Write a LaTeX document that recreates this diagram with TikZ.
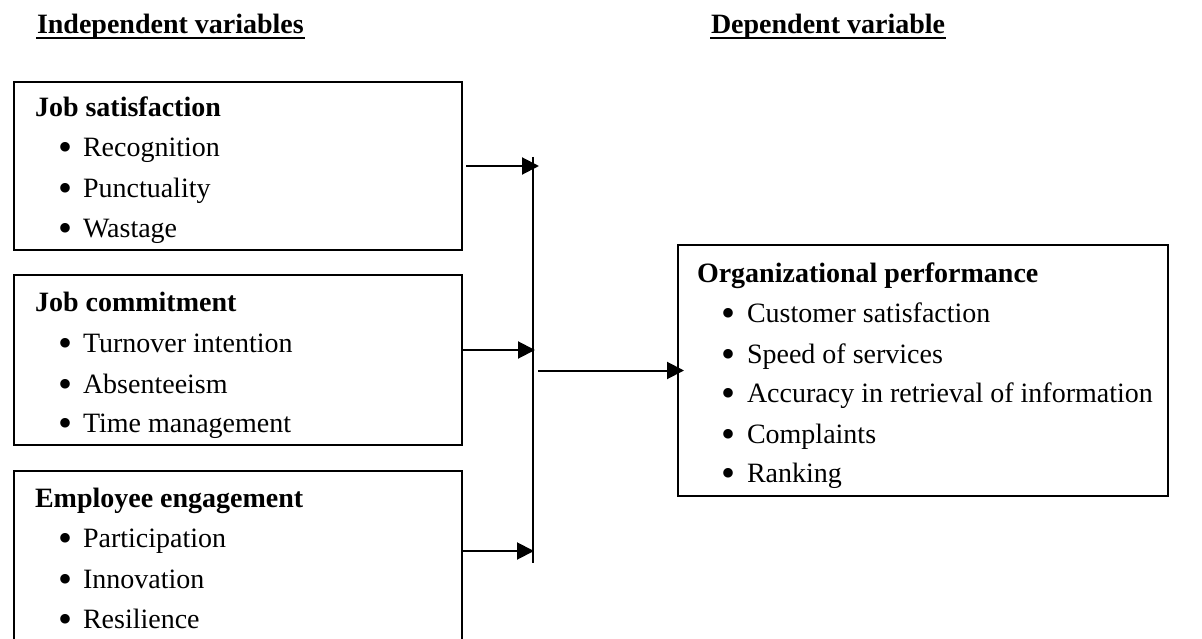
\documentclass[tikz,border=0pt]{standalone}
\usepackage{fontspec}
\setmainfont{Liberation Serif}
\usetikzlibrary{arrows.meta}
\begin{document}
\begin{tikzpicture}[x=1pt,y=-1pt,line width=2pt,
  txt/.style={anchor=base west,inner sep=0pt,font=\fontsize{28}{34}\selectfont},
  hd/.style={anchor=base west,inner sep=0pt,font=\fontsize{28}{34}\selectfont\bfseries},
  bul/.style={anchor=base,inner sep=0pt,yshift=-4pt,font=\fontsize{40}{40}\selectfont},
  box/.style={draw,line width=2pt,inner sep=0pt,outer sep=0pt,anchor=north west},
  arr/.style={-{Triangle[length=17pt,width=17pt]},line width=2pt}]
\useasboundingbox (0,0) rectangle (1202,639);
% headings
\node[hd] (h1) at (36,34) {Independent variables};
\node[hd] (h2) at (710,34) {Dependent variable};
\draw ([yshift=-4pt]h1.base west) -- ([yshift=-4pt]h1.base east);
\draw ([yshift=-4pt]h2.base west) -- ([yshift=-4pt]h2.base east);
% boxes
\node[box,minimum width=448pt,minimum height=168pt] (b1) at (14,82) {};
\node[box,minimum width=448pt,minimum height=170pt] (b2) at (14,275) {};
\node[anchor=north west,inner sep=0pt,outer sep=0pt,minimum width=448pt,minimum height=168pt] (b3) at (14,471) {};
\draw (b3.south west) -- (b3.north west) -- (b3.north east) -- (b3.south east);
\node[box,minimum width=490pt,minimum height=251pt] (ob) at (678,245) {};
% box 1
\node[hd] (t1) at (34,117) {Job satisfaction};
\node[bul] (u11) at (66,157) {•}; \node[txt] (i11) at (82,157) {Recognition};
\node[bul] (u12) at (66,198) {•}; \node[txt] (i12) at (82,198) {Punctuality};
\node[bul] (u13) at (66,237) {•}; \node[txt] (i13) at (82,237) {Wastage};
% box 2
\node[hd] (t2) at (34,311) {Job commitment};
\node[bul] (u21) at (66,352) {•}; \node[txt] (i21) at (82,352) {Turnover intention};
\node[bul] (u22) at (66,393) {•}; \node[txt] (i22) at (82,393) {Absenteeism};
\node[bul] (u23) at (66,432) {•}; \node[txt] (i23) at (82,432) {Time management};
% box 3
\node[hd] (t3) at (34,507) {Employee engagement};
\node[bul] (u31) at (66,547) {•}; \node[txt] (i31) at (82,547) {Participation};
\node[bul] (u32) at (66,588) {•}; \node[txt] (i32) at (82,588) {Innovation};
\node[bul] (u33) at (66,628) {•}; \node[txt] (i33) at (82,628) {Resilience};
% right box
\node[hd] (t4) at (696,282) {Organizational performance};
\node[bul] (u41) at (728,322) {•}; \node[txt] (i41) at (746,322) {Customer satisfaction};
\node[bul] (u42) at (728,363) {•}; \node[txt] (i42) at (746,363) {Speed of services};
\node[bul] (u43) at (728,402) {•}; \node[txt] (i43) at (746,402) {Accuracy in retrieval of information};
\node[bul] (u44) at (728,443) {•}; \node[txt] (i44) at (746,443) {Complaints};
\node[bul] (u45) at (728,482) {•}; \node[txt] (i45) at (746,482) {Ranking};
% connectors
\coordinate (vt) at (533,157);
\coordinate (vb) at (533,563);
\draw (vt) -- (vb);
\draw[arr] ([xshift=4pt]b1.east) -- ([xshift=6pt]vt |- b1.east);
\draw[arr] ([yshift=10pt]b2.east) -- ([xshift=2pt,yshift=10pt]vt |- b2.east);
\draw[arr] ([yshift=4pt]b3.east) -- ([xshift=1pt,yshift=4pt]vt |- b3.east);
\draw[arr] ([xshift=5pt]vt |- ob.west) -- ([xshift=6pt]ob.west);
\end{tikzpicture}
\end{document}
